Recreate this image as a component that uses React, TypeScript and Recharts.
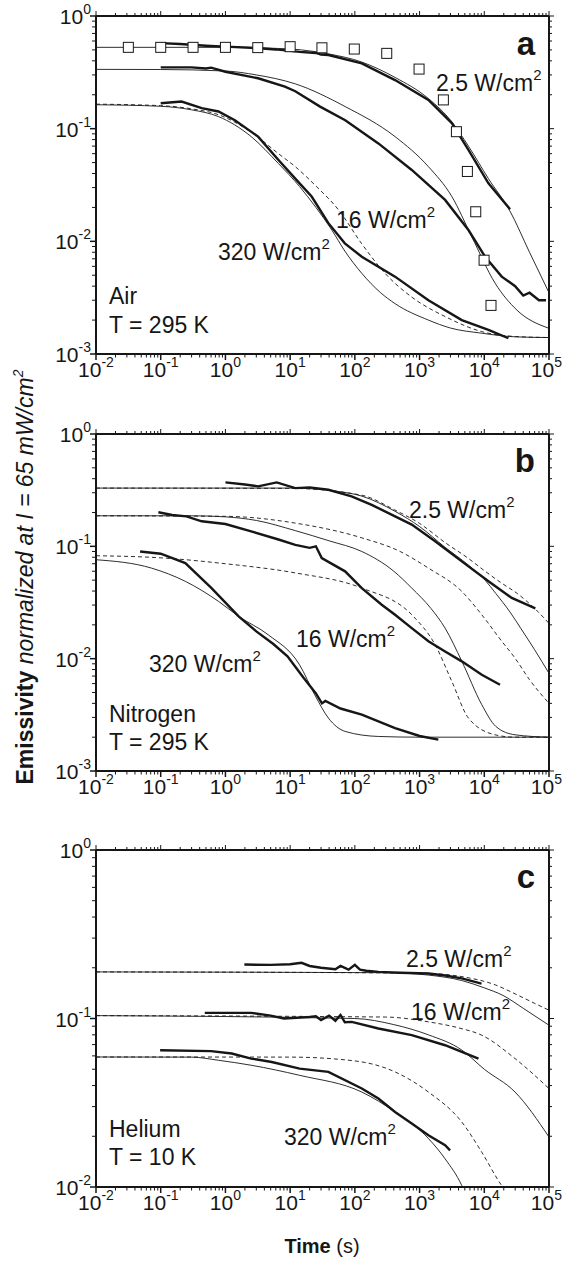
import React from "react";
import { ComposedChart, Line, Scatter, XAxis, YAxis } from "recharts";

type P = [number, number];

// axis ticks
const xMajor = [0.01, 0.1, 1, 10, 100, 1000, 10000, 100000];
const yMajorAB = [0.001, 0.01, 0.1, 1];
const yMajorC = [0.01, 0.1, 1];
const minorSteps = [2, 3, 4, 5, 6, 7, 8, 9];

// (a) Air, T = 295 K   [time s, emissivity]
const airSquares: P[] = [[0.0316,0.527],[0.1,0.527],[0.316,0.527],[1,0.527],[3.16,0.524],[10,0.534],[31,0.522],[98,0.509],[311,0.466],[982,0.338],[2333,0.18],[3710,0.094],[5480,0.0417],[7380,0.0183],[9930,0.0068],[12700,0.0027]];
const airExp25: P[] = [[0.1,0.575],[0.2,0.565],[0.5,0.545],[1,0.535],[3,0.52],[6,0.505],[14,0.48],[25,0.47],[30,0.455],[39,0.451],[128,0.38],[418,0.27],[1370,0.18],[3150,0.112],[5690,0.0647],[11600,0.0327],[25000,0.0193]];
const airFit25: P[] = [[0.01,0.527],[1,0.527],[5,0.518],[15,0.5],[40,0.46],[128,0.39],[418,0.285],[1370,0.185],[3150,0.115],[5690,0.07],[11600,0.036],[25000,0.0185],[50000,0.008],[100000,0.0035]];
const airExp16: P[] = [[0.1,0.35],[0.3,0.35],[0.5,0.342],[0.6,0.348],[1,0.32],[3.2,0.28],[8.3,0.236],[12,0.215],[29,0.157],[71,0.119],[231,0.074],[757,0.043],[2480,0.0233],[5690,0.0126],[10300,0.0073],[18600,0.00486],[30000,0.004],[40000,0.0033],[50000,0.0035],[70000,0.0030],[90000,0.003]];
const airFit16: P[] = [[0.01,0.336],[0.1,0.335],[1,0.325],[3,0.3],[12,0.25],[71,0.157],[418,0.085],[1370,0.046],[3150,0.025],[6400,0.011],[14700,0.00425],[32000,0.00245],[100000,0.00169]];
const airExp320: P[] = [[0.1,0.168],[0.21,0.174],[0.43,0.152],[0.78,0.142],[1.4,0.119],[3.2,0.085],[6.6,0.0527],[14,0.0327],[21.5,0.025],[39,0.0145],[70,0.0096],[128,0.0073],[418,0.00486],[1370,0.003],[4490,0.002],[11600,0.00164],[23600,0.00138]];
const airFit320: P[] = [[0.01,0.163],[0.1,0.158],[0.3,0.147],[0.78,0.128],[2.5,0.085],[6.6,0.049],[14,0.0306],[25,0.02],[44,0.0126],[70,0.0082],[128,0.0052],[250,0.0035],[418,0.0028],[1370,0.002],[3000,0.0017],[9140,0.00153],[30000,0.00142],[100000,0.0014]];
const airDash320: P[] = [[0.01,0.165],[0.1,0.16],[0.3,0.15],[0.78,0.133],[2.5,0.093],[6.6,0.06],[12,0.046],[25,0.031],[56,0.019],[128,0.0095],[293,0.0052],[757,0.0032],[2480,0.00215],[9140,0.00158],[30000,0.00143],[100000,0.0014]];

// (b) Nitrogen, T = 295 K
const n2Exp25: P[] = [[1,0.371],[2,0.355],[3.2,0.342],[6.2,0.371],[12,0.33],[20,0.335],[39,0.319],[89,0.279],[182,0.234],[418,0.185],[757,0.156],[1740,0.111],[4490,0.0735],[11600,0.0488],[26600,0.0347],[61500,0.028]];
const n2Fit25: P[] = [[0.01,0.33],[10,0.33],[50,0.31],[128,0.28],[418,0.205],[1000,0.15],[2480,0.098],[5690,0.068],[10300,0.05],[15100,0.038],[25000,0.026],[36900,0.0185],[60000,0.012],[100000,0.0074]];
const n2Dash25: P[] = [[0.01,0.33],[10,0.328],[128,0.285],[418,0.21],[1000,0.16],[2480,0.108],[5690,0.078],[10300,0.06],[18600,0.047],[32400,0.038],[60000,0.028],[100000,0.0206]];
const n2Exp16: P[] = [[0.092,0.201],[0.15,0.19],[0.25,0.185],[0.43,0.167],[1,0.158],[2.5,0.136],[6.6,0.115],[12,0.103],[20,0.097],[25,0.1],[30.8,0.0787],[70.6,0.0599],[128,0.0425],[260,0.0302],[418,0.0246],[757,0.0187],[1370,0.0143],[2480,0.0116],[4490,0.00946],[9140,0.0072],[17500,0.00586]];
const n2Fit16: P[] = [[0.01,0.187],[0.3,0.187],[1,0.183],[3,0.17],[12,0.138],[40,0.112],[128,0.09],[400,0.06],[757,0.0425],[1500,0.028],[2480,0.0187],[4490,0.0095],[9140,0.0039],[15000,0.0025],[29900,0.0021],[100000,0.002]];
const n2Dash16: P[] = [[0.01,0.187],[1,0.185],[12,0.161],[128,0.119],[500,0.09],[1370,0.064],[4490,0.0397],[9140,0.0246],[18600,0.0143],[29900,0.0101],[50000,0.0065],[100000,0.004]];
const n2Exp320: P[] = [[0.048,0.09],[0.1,0.086],[0.24,0.071],[0.61,0.0425],[1.6,0.0238],[3,0.0175],[5.5,0.0135],[9.1,0.0105],[16,0.0068],[25,0.0049],[31,0.004],[35,0.0042],[60,0.0036],[128,0.00317],[418,0.00241],[1000,0.00205],[1950,0.0019]];
const n2Fit320: P[] = [[0.01,0.076],[0.072,0.064],[0.24,0.0488],[0.78,0.0324],[1.6,0.0238],[4.6,0.0163],[14,0.0088],[24,0.00477],[39,0.00296],[71,0.00225],[231,0.00203],[1000,0.002],[100000,0.002]];
const n2Dash320: P[] = [[0.01,0.0825],[0.1,0.079],[1,0.07],[12,0.058],[128,0.0425],[757,0.0246],[1740,0.0133],[3150,0.00628],[5690,0.00296],[14700,0.0021],[30000,0.002],[100000,0.002]];

// (c) Helium, T = 10 K
const heExp25: P[] = [[1.96,0.209],[5,0.208],[10,0.21],[15,0.214],[20,0.205],[30,0.2],[50,0.196],[60,0.205],[80,0.195],[100,0.208],[120,0.195],[150,0.192],[231,0.189],[500,0.187],[1370,0.185],[2500,0.18],[4490,0.173],[9060,0.161]];
const heFit25: P[] = [[0.01,0.189],[300,0.187],[1370,0.181],[4490,0.168],[10000,0.152],[19500,0.137],[40000,0.115],[100000,0.0912]];
const heDash25: P[] = [[0.01,0.189],[1000,0.186],[5000,0.176],[15000,0.158],[30000,0.14],[60000,0.123],[100000,0.112]];
const heExp16: P[] = [[0.48,0.108],[2.5,0.108],[5,0.104],[8,0.1],[20,0.102],[25,0.103],[30,0.098],[40,0.104],[50,0.097],[60,0.105],[70,0.095],[89.5,0.0955],[231,0.0872],[757,0.0796],[2480,0.0694],[8130,0.0578]];
const heFit16: P[] = [[0.01,0.104],[100,0.1],[400,0.092],[1370,0.08],[4490,0.065],[10000,0.05],[29900,0.0366],[100000,0.0198]];
const heDash16: P[] = [[0.01,0.104],[300,0.102],[1370,0.0955],[4000,0.088],[9140,0.0796],[29900,0.0578],[100000,0.0384]];
const heExp320: P[] = [[0.098,0.0648],[0.6,0.064],[1.25,0.062],[2.5,0.0578],[5.2,0.0552],[14,0.0504],[39,0.0482],[128,0.0384],[231,0.0335],[418,0.0279],[757,0.0238],[1370,0.0203],[2480,0.0177],[2960,0.0165]];
const heFit320: P[] = [[0.01,0.0591],[0.3,0.059],[0.78,0.0565],[2.5,0.0528],[14,0.046],[128,0.0366],[418,0.0279],[1370,0.0194],[2480,0.0147],[4490,0.0102],[5000,0.0093]];
const heDash320: P[] = [[0.01,0.0591],[10,0.059],[100,0.056],[418,0.0482],[1370,0.0366],[4490,0.0243],[9140,0.0161],[18600,0.0102],[21000,0.0096]];

const FONT = "'Liberation Sans', Arial, Helvetica, sans-serif";
const INK = "#161616";

const pts = (a: P[]) => a.map(([t, v]) => ({ t, v }));
const withMinors = (majors: number[]) =>
  majors.flatMap((m, i) =>
    i < majors.length - 1 ? [m, ...minorSteps.map((k) => +(m * k).toPrecision(3))] : [m]
  );
const isMajor = (v: number) => Math.abs(Math.log10(v) - Math.round(Math.log10(v))) < 1e-6;
const expOf = (v: number) => String(Math.round(Math.log10(v)));

const BottomTick = (p: any) => {
  const v = p.payload.value;
  const major = isMajor(v);
  const last = v === xMajor[xMajor.length - 1];
  return (
    <g>
      <line x1={p.x} x2={p.x} y1={p.y} y2={p.y + (major ? 6 : 3.5)} stroke={INK} strokeWidth={major ? 1.5 : 1} />
      {major && (
        <text x={last ? 562 : p.x} y={p.y + 23} textAnchor={last ? "end" : "middle"} fontFamily={FONT}
          fontSize={21} fill={INK}>
          10<tspan fontSize={14} dy={-10}>{expOf(v)}</tspan>
        </text>
      )}
    </g>
  );
};
const TopTick = (p: any) => {
  const major = isMajor(p.payload.value);
  return <line x1={p.x} x2={p.x} y1={p.y} y2={p.y - (major ? 5 : 3)} stroke={INK} strokeWidth={1} />;
};
const LeftTick = (p: any) => {
  const major = isMajor(p.payload.value);
  return (
    <g>
      <line x1={p.x} x2={p.x - (major ? 6 : 4)} y1={p.y} y2={p.y} stroke={INK} strokeWidth={major ? 1.5 : 1} />
      {major && (
        <text x={p.x - 5} y={p.y + 8} textAnchor="end" fontFamily={FONT} fontSize={21} fill={INK}>
          10<tspan fontSize={14} dy={-10}>{expOf(p.payload.value)}</tspan>
        </text>
      )}
    </g>
  );
};
const RightTick = (p: any) => {
  const major = isMajor(p.payload.value);
  return <line x1={p.x} x2={p.x + (major ? 5 : 3)} y1={p.y} y2={p.y} stroke={INK} strokeWidth={1} />;
};

const Square = (p: any) => (
  <rect x={p.cx - 5} y={p.cy - 5} width={10} height={10} fill="#fff" stroke={INK} strokeWidth={1} />
);

const axisLine = { stroke: INK, strokeWidth: 2 };
// axis band sizes (the plot edges stay where the margins + bands put them)
const LEFT_W = 60;
const RIGHT_W = 10;
const TOP_H = 8;
const BOTTOM_H = 30;

type PanelProps = {
  top: number;
  height: number;
  mTop: number;
  mBottom: number;
  yMajor: number[];
  exps: P[][];
  fits: P[][];
  dashed: P[][];
  squares?: P[];
};

function Panel({ top, height, mTop, mBottom, yMajor, exps, fits, dashed, squares }: PanelProps) {
  const xTicks = withMinors(xMajor);
  const yTicks = withMinors(yMajor);
  const xDom: [number, number] = [xMajor[0], xMajor[xMajor.length - 1]];
  const yDom: [number, number] = [yMajor[0], yMajor[yMajor.length - 1]];
  return (
    <div style={{ position: "absolute", left: 0, top }}>
      <ComposedChart width={563} height={height}
        margin={{ top: mTop - TOP_H, right: 14 - RIGHT_W, bottom: mBottom - BOTTOM_H, left: 96 - LEFT_W }}>
        <XAxis dataKey="t" type="number" scale="log" domain={xDom} ticks={xTicks} interval={0} allowDataOverflow
          height={BOTTOM_H} tickSize={0} tickMargin={0} tickLine={false} axisLine={axisLine} tick={<BottomTick />} />
        <XAxis xAxisId="top" orientation="top" dataKey="t" type="number" scale="log" domain={xDom} ticks={xTicks}
          interval={0} allowDataOverflow height={TOP_H} tickSize={0} tickMargin={0} tickLine={false}
          axisLine={axisLine} tick={<TopTick />} />
        <YAxis dataKey="v" type="number" scale="log" domain={yDom} ticks={yTicks} interval={0} allowDataOverflow
          width={LEFT_W} tickSize={0} tickMargin={0} tickLine={false} axisLine={axisLine} tick={<LeftTick />} />
        <YAxis yAxisId="right" orientation="right" dataKey="v" type="number" scale="log" domain={yDom} ticks={yTicks}
          interval={0} allowDataOverflow width={RIGHT_W} tickSize={0} tickMargin={0} tickLine={false}
          axisLine={axisLine} tick={<RightTick />} />
        {dashed.map((d, i) => (
          <Line key={"d" + i} data={pts(d)} dataKey="v" type="monotone" stroke={INK} strokeWidth={0.9}
            strokeDasharray="4 3" dot={false} activeDot={false} isAnimationActive={false} />
        ))}
        {fits.map((d, i) => (
          <Line key={"f" + i} data={pts(d)} dataKey="v" type="monotone" stroke={INK} strokeWidth={0.9}
            dot={false} activeDot={false} isAnimationActive={false} />
        ))}
        {exps.map((d, i) => (
          <Line key={"e" + i} data={pts(d)} dataKey="v" type="linear" stroke={INK} strokeWidth={2.4}
            dot={false} activeDot={false} isAnimationActive={false} />
        ))}
        {squares && <Scatter data={pts(squares)} dataKey="v" shape={Square} isAnimationActive={false} />}
      </ComposedChart>
    </div>
  );
}

const notes = [
  { x: 436, y: 91, s: "2.5 W/cm", sup: "2" },
  { x: 336, y: 228, s: "16 W/cm", sup: "2" },
  { x: 218, y: 260, s: "320 W/cm", sup: "2" },
  { x: 109, y: 304, s: "Air" },
  { x: 109, y: 333, s: "T = 295 K" },
  { x: 409, y: 518, s: "2.5 W/cm", sup: "2" },
  { x: 296, y: 647, s: "16 W/cm", sup: "2" },
  { x: 149, y: 672, s: "320 W/cm", sup: "2" },
  { x: 109, y: 722, s: "Nitrogen" },
  { x: 109, y: 750, s: "T = 295 K" },
  { x: 406, y: 967, s: "2.5 W/cm", sup: "2" },
  { x: 411, y: 1020, s: "16 W/cm", sup: "2" },
  { x: 284, y: 1145, s: "320 W/cm", sup: "2" },
  { x: 109, y: 1137, s: "Helium" },
  { x: 109, y: 1165, s: "T = 10 K" },
];
const panelLetters = [
  { x: 535, y: 55, s: "a" },
  { x: 535, y: 472, s: "b" },
  { x: 535, y: 888, s: "c" },
];

export default function App() {
  return (
    <div style={{ position: "absolute", left: 0, top: 0, width: 563, height: 1261, background: "#fff" }}>
      <Panel top={0} height={420} mTop={16} mBottom={66} yMajor={yMajorAB}
        exps={[airExp25, airExp16, airExp320]} fits={[airFit25, airFit16, airFit320]} dashed={[airDash320]}
        squares={airSquares} />
      <Panel top={410} height={430} mTop={24} mBottom={69} yMajor={yMajorAB}
        exps={[n2Exp25, n2Exp16, n2Exp320]} fits={[n2Fit25, n2Fit16, n2Fit320]} dashed={[n2Dash25, n2Dash16, n2Dash320]} />
      <Panel top={830} height={431} mTop={20} mBottom={74} yMajor={yMajorC}
        exps={[heExp25, heExp16, heExp320]} fits={[heFit25, heFit16, heFit320]} dashed={[heDash25, heDash16, heDash320]} />
      <svg width={563} height={1261} style={{ position: "absolute", left: 0, top: 0, pointerEvents: "none" }}
        fontFamily={FONT} fill={INK}>
        {notes.map((n, i) => (
          <text key={i} x={n.x} y={n.y} fontSize={23}>
            {n.s}
            {n.sup && <tspan fontSize={15} dy={-11}>{n.sup}</tspan>}
          </text>
        ))}
        {panelLetters.map((n) => (
          <text key={n.s} x={n.x} y={n.y} fontSize={33} fontWeight="bold" textAnchor="end">{n.s}</text>
        ))}
        <text transform="translate(33,577) rotate(-90)" textAnchor="middle" fontSize={23}>
          <tspan fontWeight="bold">Emissivity</tspan>
          <tspan fontStyle="italic"> normalized at I = 65 mW/cm</tspan>
          <tspan fontStyle="italic" fontSize={14} dy={-10}>2</tspan>
        </text>
        <text x={322} y={1253} textAnchor="middle" fontSize={20}>
          <tspan fontWeight="bold">Time</tspan> (s)
        </text>
      </svg>
    </div>
  );
}
